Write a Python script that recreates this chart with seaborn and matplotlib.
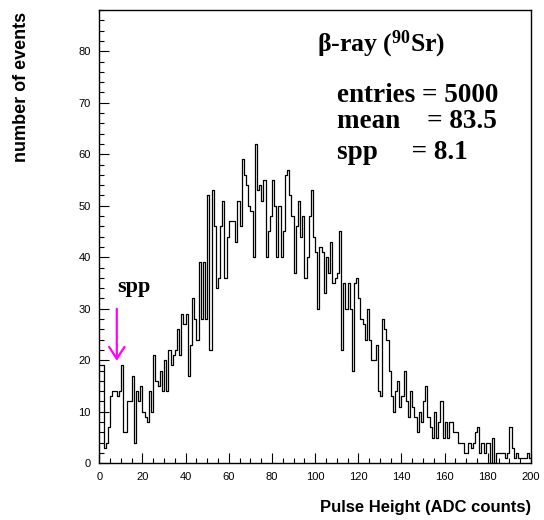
import numpy as np
import pandas as pd
import matplotlib
matplotlib.use("Agg")
import matplotlib.pyplot as plt
import seaborn as sns
from matplotlib.ticker import MultipleLocator

# ---- data (events per 1-ADC-count bin, 0..199) ----
events_000_039 = [19, 19, 3, 4, 7, 13, 14, 14, 13, 14, 19, 6, 6, 12, 12, 17, 4, 14, 12, 15,
                  10, 9, 8, 14, 10, 21, 16, 15, 18, 14, 20, 14, 22, 19, 21, 22, 26, 21, 29, 27]
events_040_079 = [29, 17, 23, 32, 28, 24, 39, 28, 39, 28, 52, 22, 53, 46, 34, 36, 46, 51, 36, 44,
                  47, 47, 47, 43, 51, 46, 59, 56, 54, 50, 49, 40, 62, 53, 54, 51, 55, 40, 45, 48]
events_080_119 = [55, 50, 40, 50, 40, 45, 56, 57, 52, 48, 37, 46, 51, 44, 48, 36, 40, 48, 53, 44,
                  41, 30, 42, 41, 33, 40, 37, 43, 35, 36, 37, 45, 22, 35, 30, 35, 30, 18, 35, 36]
events_120_159 = [32, 28, 27, 24, 30, 24, 20, 20, 23, 14, 13, 28, 26, 24, 18, 13, 10, 14, 16, 11,
                  13, 18, 12, 9, 14, 11, 9, 6, 10, 8, 12, 15, 9, 7, 5, 10, 5, 8, 12, 5]
events_160_199 = [8, 5, 8, 8, 6, 6, 4, 4, 4, 2, 2, 4, 3, 4, 6, 7, 2, 4, 2, 4,
                  4, 0, 5, 0, 2, 2, 2, 2, 1, 2, 7, 3, 1, 2, 1, 1, 1, 1, 2, 1]
events = events_000_039 + events_040_079 + events_080_119 + events_120_159 + events_160_199
bin_left = list(range(0, 200))

x_ticks = [0, 20, 40, 60, 80, 100, 120, 140, 160, 180, 200]
y_ticks = [0, 10, 20, 30, 40, 50, 60, 70, 80]

title_text = "β-ray ($^{\\mathbf{90}}$Sr)"
stats_lines = ["entries = 5000", "mean    = 83.5", "spp     = 8.1"]
spp_value = 8.1

# ---- style ----
sns.set_style("ticks")
plt.rcParams['font.family'] = ['Liberation Sans', 'DejaVu Sans']
plt.rcParams['text.color'] = 'black'
plt.rcParams['axes.labelcolor'] = 'black'
plt.rcParams['xtick.color'] = 'black'
plt.rcParams['ytick.color'] = 'black'
plt.rcParams['mathtext.fontset'] = 'custom'
plt.rcParams['mathtext.rm'] = 'Liberation Serif:bold'
plt.rcParams['mathtext.bf'] = 'Liberation Serif:bold'
plt.rcParams['mathtext.it'] = 'Liberation Serif:bold'

df = pd.DataFrame({"adc": np.array(bin_left) + 0.5, "events": events})

W, H = 544, 520
fig = plt.figure(figsize=(W / 100, H / 100), dpi=100)
ax = fig.add_axes([99.3 / W, 1 - 463.3 / H, 431.7 / W, 453.3 / H])

sns.histplot(data=df, x="adc", weights="events", bins=200, binrange=(0, 200),
             element="step", fill=False, color="black", linewidth=0.9, ax=ax)

ax.set_xlim(0, 200)
ax.set_ylim(0, 88)
ax.set_xticks(x_ticks)
ax.set_yticks(y_ticks)
ax.xaxis.set_minor_locator(MultipleLocator(5))
ax.yaxis.set_minor_locator(MultipleLocator(2))
ax.tick_params(which='both', direction='in', top=False, right=False,
               labelsize=8, colors='black', width=0.8)
ax.tick_params(which='major', length=7, pad=6)
ax.tick_params(which='minor', length=3.5)
for s in ax.spines.values():
    s.set_linewidth(1.0)
    s.set_color('black')

ax.set_xlabel("Pulse Height (ADC counts)", fontsize=12, fontweight='bold',
              loc='right', color='black')
ax.xaxis.set_label_coords(1.0, -0.08)
ax.set_ylabel("number of events", fontsize=13, fontweight='bold', loc='top',
              color='black')
ax.yaxis.set_label_coords(-0.16, 0.995)

serif = ['Liberation Serif', 'DejaVu Serif']
ax.text(0.5036, 0.908, title_text, transform=ax.transAxes, fontsize=18.5,
        fontweight='bold', family=serif, ha='left', va='baseline', color='black')
for line, yf in zip(stats_lines, [0.7977, 0.739, 0.6706]):
    ax.text(0.55, yf, line, transform=ax.transAxes, fontsize=19.5,
            fontweight='bold', family=serif, ha='left', va='baseline', color='black')

ax.text(spp_value, 33.3, "spp", fontsize=16, fontweight='bold', family=serif,
        ha='left', va='baseline', color='black')
ax.annotate("", xy=(spp_value, 19.9), xytext=(spp_value, 30.0),
            arrowprops=dict(arrowstyle="->,head_length=0.85,head_width=0.55",
                            color="#ff00ff", lw=1.6, shrinkA=0, shrinkB=0,
                            mutation_scale=10))

fig.savefig("out.png", dpi=100)
